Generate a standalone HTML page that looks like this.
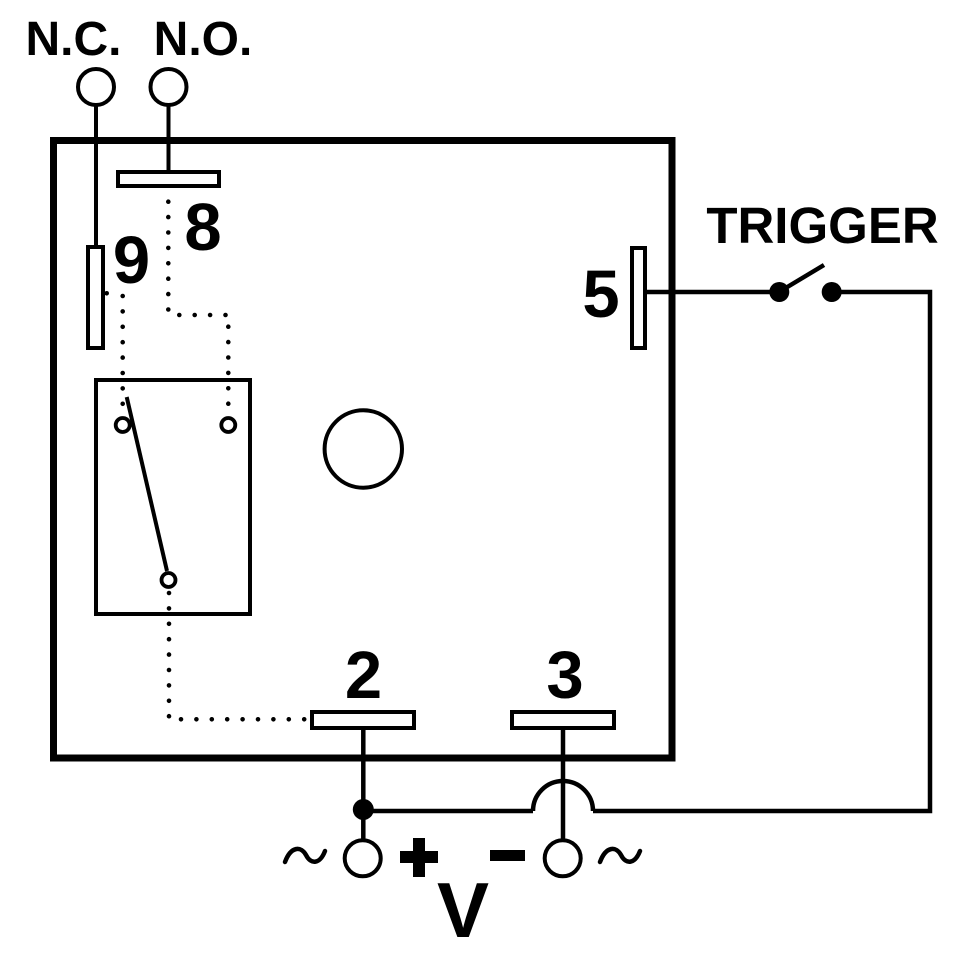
<!DOCTYPE html>
<html><head><meta charset="utf-8"><style>
html,body{margin:0;padding:0;background:#fff;}
svg{display:block;}
text{font-family:"Liberation Sans",Arial,sans-serif;font-weight:bold;fill:#000;}
</style></head><body>
<svg width="960" height="960" viewBox="0 0 960 960" xmlns="http://www.w3.org/2000/svg">
<rect x="0" y="0" width="960" height="960" fill="#fff"/>
<!-- labels -->
<text x="73.5" y="55" font-size="48" text-anchor="middle">N.C.</text>
<text x="203" y="55" font-size="48" text-anchor="middle">N.O.</text>
<text x="822.5" y="243" font-size="51" text-anchor="middle">TRIGGER</text>
<text x="203" y="250" font-size="67" text-anchor="middle">8</text>
<text x="131.5" y="283" font-size="67" text-anchor="middle">9</text>
<text x="601" y="317" font-size="67" text-anchor="middle">5</text>
<text x="363.5" y="698" font-size="67" text-anchor="middle">2</text>
<text x="565" y="698" font-size="67" text-anchor="middle">3</text>
<text x="463" y="937" font-size="78" text-anchor="middle">V</text>

<g fill="none" stroke="#000">
<!-- main box -->
<rect x="53.5" y="140.5" width="618.5" height="617.5" stroke-width="7"/>
<!-- NC / NO terminals -->
<circle cx="96" cy="87" r="18" stroke-width="4"/>
<circle cx="168.5" cy="87" r="18" stroke-width="4"/>
<line x1="96" y1="105" x2="96" y2="247" stroke-width="4"/>
<line x1="168.5" y1="105" x2="168.5" y2="172" stroke-width="4"/>
<rect x="118" y="172" width="101" height="14" stroke-width="4"/>
<rect x="88" y="247" width="15" height="101" stroke-width="4"/>
<!-- relay box -->
<rect x="96" y="380" width="154" height="234" stroke-width="4"/>
<circle cx="122.7" cy="425" r="7" stroke-width="3.8"/>
<circle cx="228.3" cy="425" r="7" stroke-width="3.8"/>
<circle cx="168.5" cy="580" r="7" stroke-width="3.8"/>
<line x1="126.7" y1="397" x2="167" y2="571" stroke-width="4"/>
<!-- center circle -->
<circle cx="363.3" cy="449" r="38.7" stroke-width="4"/>
<!-- terminal 5 & trigger -->
<rect x="632" y="248" width="13" height="100" stroke-width="4"/>
<line x1="647" y1="292" x2="779" y2="292" stroke-width="4.5"/>
<line x1="779" y1="292" x2="824" y2="265" stroke-width="4.5"/>
<polyline points="831,292 930,292 930,811 593,811" stroke-width="4.5"/>
<!-- terminals 2 and 3 -->
<rect x="312" y="712" width="102" height="16" stroke-width="4"/>
<rect x="512" y="712" width="102" height="16" stroke-width="4"/>
<line x1="363.3" y1="728" x2="363.3" y2="840" stroke-width="4.5"/>
<line x1="563" y1="728" x2="563" y2="840" stroke-width="4.5"/>
<line x1="363.3" y1="811" x2="533" y2="811" stroke-width="4.5"/>
<path d="M533,811 A30,30 0 0 1 593,811" stroke-width="4.5"/>
<circle cx="362.7" cy="858.3" r="18" stroke-width="4"/>
<circle cx="562.7" cy="858.3" r="18" stroke-width="4"/>
<!-- tildes -->
<path d="M285,862 C291,846 301,846 306,855 C311,865 320,864 325,851" stroke-width="4.5" stroke-linecap="round"/>
<path d="M600,862 C606,846 616,846 621,855 C626,865 635,864 640,851" stroke-width="4.5" stroke-linecap="round"/>
<!-- dotted lines -->
<g stroke-width="4.6" stroke-linecap="round" stroke-dasharray="0 15.4">
<path d="M168.3,201.7 V311"/>
<path d="M179.3,315 H227"/>
<path d="M228.3,326.7 V406"/>
<path d="M122.7,296 V406"/>
<path d="M169,593 V717"/>
<path d="M181,719.3 H306"/>
</g>
</g>
<!-- filled dots -->
<circle cx="363.3" cy="809.5" r="10.5" fill="#000"/>
<circle cx="779.3" cy="292" r="10" fill="#000"/>
<circle cx="831.7" cy="292" r="10" fill="#000"/>
<circle cx="106.7" cy="293.3" r="2.3" fill="#000"/>
<!-- plus and minus -->
<rect x="400" y="851" width="38" height="12" fill="#000"/>
<rect x="413" y="838" width="12" height="39" fill="#000"/>
<rect x="490" y="850" width="35" height="11" fill="#000"/>
</svg>
</body></html>
